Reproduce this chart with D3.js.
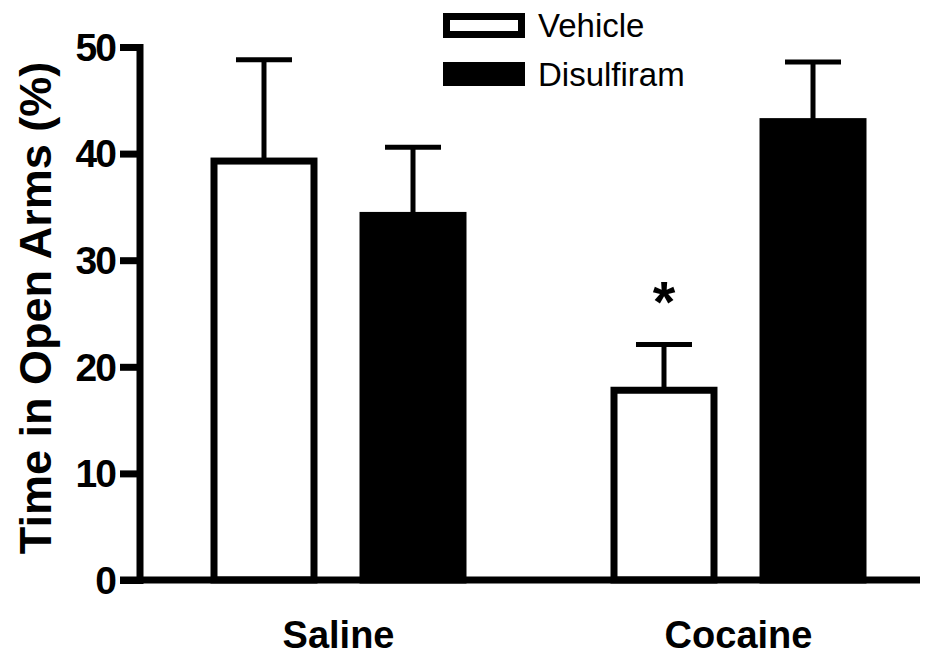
<!DOCTYPE html>
<html>
<head>
<meta charset="utf-8">
<script src="https://cdn.jsdelivr.net/npm/d3@7"></script>
<style>
  body { margin: 0; background: #fff; }
  text { font-family: Arial, 'Liberation Sans', Helvetica, sans-serif; }
</style>
</head>
<body>
<div id="chart"></div>
<script>
const groups = ['Saline', 'Cocaine'];
const series = ['Vehicle', 'Disulfiram'];
const vehicleMeans = [39.3, 17.8];
const vehicleErrTop = [48.8, 22.1];
const disulfiramMeans = [34.2, 43.0];
const disulfiramErrTop = [40.6, 48.6];
const yTicks = [0, 10, 20, 30, 40, 50];
const significant = [{ group: 'Cocaine', series: 'Vehicle' }];

const data = [];
groups.forEach((g, i) => {
  data.push({ group: g, series: 'Vehicle', value: vehicleMeans[i], top: vehicleErrTop[i] });
  data.push({ group: g, series: 'Disulfiram', value: disulfiramMeans[i], top: disulfiramErrTop[i] });
});

const width = 931;
const height = 655;
const strokeW = 7;

const svg = d3
  .select('#chart')
  .append('svg')
  .attr('width', width)
  .attr('height', height);

const y = d3.scaleLinear().domain([0, 50]).range([580, 47]);

const x0 = d3.scaleBand().domain(groups).range([138.5, 938.5]);

const x1 = d3
  .scaleBand()
  .domain(series)
  .range([72, 328])
  .paddingInner(0.282);

const fill = d3.scaleOrdinal().domain(series).range(['#fff', '#000']);

// bars
const bars = svg
  .selectAll('.bar')
  .data(data)
  .enter()
  .append('g')
  .attr('class', 'bar')
  .attr('transform', (d) => `translate(${x0(d.group) + x1(d.series)}, 0)`);

// error bars (drawn first so the bar outline covers the stem base)
bars
  .append('line')
  .attr('x1', x1.bandwidth() / 2)
  .attr('x2', x1.bandwidth() / 2)
  .attr('y1', (d) => y(d.value))
  .attr('y2', (d) => y(d.top))
  .attr('stroke', '#000')
  .attr('stroke-width', 5);

bars
  .append('line')
  .attr('x1', x1.bandwidth() / 2 - 28)
  .attr('x2', x1.bandwidth() / 2 + 28)
  .attr('y1', (d) => y(d.top))
  .attr('y2', (d) => y(d.top))
  .attr('stroke', '#000')
  .attr('stroke-width', 5);

bars
  .append('rect')
  .attr('x', strokeW / 2)
  .attr('width', x1.bandwidth() - strokeW)
  .attr('y', (d) => y(d.value))
  .attr('height', (d) => y(0) - y(d.value))
  .attr('fill', (d) => fill(d.series))
  .attr('stroke', '#000')
  .attr('stroke-width', strokeW);

// significance marks
svg
  .selectAll('.star')
  .data(significant)
  .enter()
  .append('text')
  .attr('class', 'star')
  .attr('x', (d) => x0(d.group) + x1(d.series) + x1.bandwidth() / 2)
  .attr('y', (d) => {
    const row = data.find((e) => e.group === d.group && e.series === d.series);
    return y(row.top) - 22;
  })
  .attr('text-anchor', 'middle')
  .attr('font-size', 58)
  .attr('font-weight', 'bold')
  .text('*');

// y axis
const yAxis = svg
  .append('g')
  .attr('transform', 'translate(139.5, 0)')
  .call(
    d3
      .axisLeft(y)
      .tickValues(yTicks)
      .tickSize(19.5)
      .tickSizeOuter(0)
      .tickPadding(5)
  );

yAxis.select('.domain')
  .attr('stroke', '#000')
  .attr('stroke-width', strokeW)
  .attr('stroke-linecap', 'square');

yAxis.selectAll('.tick line')
  .attr('stroke', '#000')
  .attr('stroke-width', strokeW);

yAxis.selectAll('.tick text')
  .attr('font-size', 39)
  .attr('font-weight', 'bold')
  .attr('letter-spacing', -2)
  .attr('fill', '#000')
  .attr('dy', '0.34em')
  .style('font-family', 'Arial, "Liberation Sans", sans-serif');

// x axis
svg
  .append('line')
  .attr('x1', 120)
  .attr('x2', 920)
  .attr('y1', y(0))
  .attr('y2', y(0))
  .attr('stroke', '#000')
  .attr('stroke-width', strokeW);

const xAxis = svg
  .append('g')
  .attr('transform', `translate(0, ${y(0)})`)
  .call(d3.axisBottom(x0).tickSize(0));

xAxis.select('.domain').remove();

xAxis.selectAll('.tick text')
  .attr('y', 68)
  .attr('dy', 0)
  .attr('font-size', 38)
  .attr('font-weight', 'bold')
  .attr('fill', '#000')
  .style('font-family', 'Arial, "Liberation Sans", sans-serif');

// y label
svg
  .append('text')
  .attr('transform', 'rotate(-90)')
  .attr('x', -308)
  .attr('y', 51)
  .attr('text-anchor', 'middle')
  .attr('font-size', 45)
  .attr('font-weight', 'bold')
  .text('Time in Open Arms (%)');

// legend
const legend = svg
  .selectAll('.legend')
  .data(series)
  .enter()
  .append('g')
  .attr('class', 'legend')
  .attr('transform', (d, i) => `translate(443, ${13 + i * 49})`);

legend
  .append('rect')
  .attr('x', (d) => (d === 'Vehicle' ? strokeW / 2 : 0))
  .attr('y', (d) => (d === 'Vehicle' ? strokeW / 2 : 0))
  .attr('width', (d) => (d === 'Vehicle' ? 82 - strokeW : 82))
  .attr('height', (d) => (d === 'Vehicle' ? 25 - strokeW : 24))
  .attr('fill', (d) => fill(d))
  .attr('stroke', (d) => (d === 'Vehicle' ? '#000' : 'none'))
  .attr('stroke-width', strokeW);

legend
  .append('text')
  .attr('x', 95)
  .attr('y', 24)
  .attr('font-size', 33)
  .text((d) => d);
</script>
</body>
</html>
